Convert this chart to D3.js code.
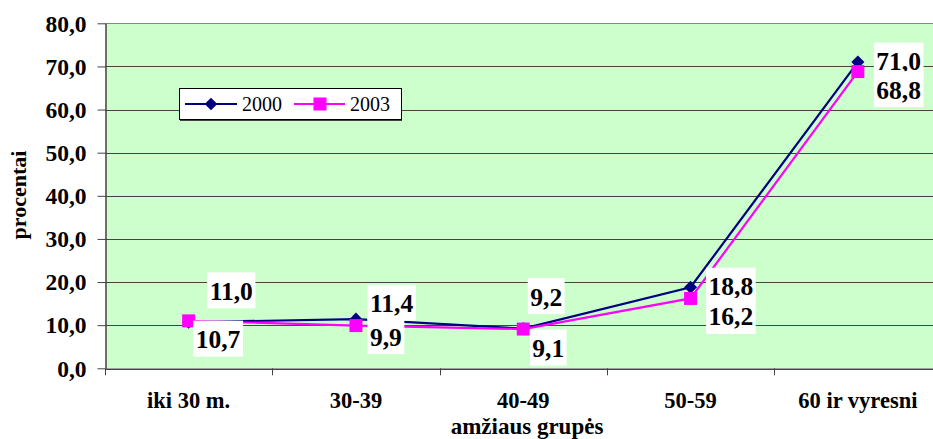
<!DOCTYPE html>
<html><head><meta charset="utf-8">
<script src="https://cdn.jsdelivr.net/npm/d3@7"></script>
<style>body{margin:0;background:#fff}svg{display:block}</style>
</head><body><svg id="c" width="933" height="439"></svg>
<script>
const categories = ["iki 30 m.", "30-39", "40-49", "50-59", "60 ir vyresni"];
const series2000 = [10.7, 11.4, 9.2, 18.8, 71.0];
const series2003 = [11.0, 9.9, 9.1, 16.2, 68.8];
const seriesNames = ["2000", "2003"];
const yTicks = [0, 10, 20, 30, 40, 50, 60, 70, 80];
// label offsets (style, px) relative to each point: [dx to text start, dy to baseline]
const labelOffsets2000 = [[7, 26], [14, -7], [7, -23], [18, 8], [18.5, 8]];
const labelOffsets2003 = [[21, -21], [14, 20], [9, 28], [18, 27], [18.5, 27]];

const svg = d3.select("#c");
const L = 105, R = 941.5, T = 23.3, B = 368.3;
const x = d3.scaleBand().domain(categories).range([L, R]);
const y = d3.scaleLinear().domain([0, 80]).range([B, T]);
const fmt = v => v.toFixed(1).replace(".", ",");
const font = "'Liberation Serif','Times New Roman',serif";

svg.append("rect").attr("x", L).attr("y", T).attr("width", R - L).attr("height", B - T).attr("fill", "#ccffcc");

// gridlines
svg.append("g").selectAll("line").data(yTicks.filter(d => d > 0)).join("line")
  .attr("x1", L).attr("x2", R).attr("y1", d => Math.round(y(d)) + 0.5).attr("y2", d => Math.round(y(d)) + 0.5)
  .attr("stroke", d => d === 80 ? "#888" : "#444").attr("stroke-width", 1);

// y axis
const ya = svg.append("g").attr("transform", `translate(${L + 0.5},0)`)
  .call(d3.axisLeft(y).tickValues(yTicks).tickFormat(fmt).tickSize(8).tickSizeOuter(0));
ya.select(".domain").attr("stroke", "#444").attr("stroke-width", 1.5);
ya.selectAll(".tick line").attr("stroke", "#444");
ya.selectAll("text").attr("font-family", font).attr("font-weight", "bold").attr("font-size", 23.5)
  .attr("fill", "#000").attr("x", -19).attr("dy", "0.33em");

// x axis
const xa = svg.append("g").attr("transform", `translate(0,${B + 0.5})`)
  .call(d3.axisBottom(x).tickSize(0).tickSizeOuter(0));
xa.select(".domain").attr("stroke", "#444").attr("stroke-width", 1.5);
xa.selectAll("text").attr("font-family", font).attr("font-weight", "bold").attr("font-size", 22.5)
  .attr("fill", "#000").attr("y", 39).attr("dy", 0);
svg.append("g").selectAll("line").data(d3.range(categories.length + 1)).join("line")
  .attr("x1", i => Math.round(L + i * x.step()) + 0.5).attr("x2", i => Math.round(L + i * x.step()) + 0.5)
  .attr("y1", B).attr("y2", B + 7).attr("stroke", "#444");

// axis titles
svg.append("text").attr("x", 527).attr("y", 434).attr("text-anchor", "middle")
  .attr("font-family", font).attr("font-weight", "bold").attr("font-size", 23).text("amžiaus grupės");
svg.append("text").attr("transform", "translate(26,195) rotate(-90)").attr("text-anchor", "middle")
  .attr("font-family", font).attr("font-weight", "bold").attr("font-size", 22).text("procentai");

const cx = c => x(c) + x.bandwidth() / 2;
const line = d3.line().x((d, i) => cx(categories[i])).y(d => y(d));

function drawSeries(vals, color, marker) {
  svg.append("path").datum(vals).attr("d", line).attr("fill", "none").attr("stroke", color).attr("stroke-width", 2.2);
  const g = svg.append("g");
  vals.forEach((v, i) => {
    if (marker === "diamond") {
      g.append("path").attr("d", d3.symbol().type(d3.symbolSquare).size(85)())
        .attr("transform", `translate(${cx(categories[i])},${y(v)}) rotate(45)`).attr("fill", color);
    } else {
      g.append("rect").attr("x", cx(categories[i]) - 6.5).attr("y", y(v) - 6.5).attr("width", 13).attr("height", 13).attr("fill", color);
    }
  });
}
drawSeries(series2000, "#000080", "diamond");
drawSeries(series2003, "#ff00ff", "square");

function drawLabels(vals, offs) {
  vals.forEach((v, i) => {
    const g = svg.append("g");
    const tx = cx(categories[i]) + offs[i][0], ty = y(v) + offs[i][1];
    const t = g.append("text").attr("x", tx).attr("y", ty)
      .attr("font-family", font).attr("font-weight", "bold").attr("font-size", 25.5).text(fmt(v));
    const b = t.node().getBBox();
    g.insert("rect", "text").attr("x", b.x - 2.5).attr("y", ty - 27.5).attr("width", b.width + 5).attr("height", 36).attr("fill", "#fff");
  });
}
drawLabels(series2000, labelOffsets2000);
drawLabels(series2003, labelOffsets2003);

// legend
const lg = svg.append("g");
lg.append("rect").attr("x", 179.5).attr("y", 88.5).attr("width", 222).attr("height", 31).attr("fill", "#fff").attr("stroke", "#000");
lg.append("line").attr("x1", 180).attr("x2", 402).attr("y1", 120.5).attr("y2", 120.5).attr("stroke", "#444");
lg.append("line").attr("x1", 185).attr("x2", 237).attr("y1", 104).attr("y2", 104).attr("stroke", "#000080").attr("stroke-width", 2.2);
lg.append("path").attr("d", d3.symbol().type(d3.symbolSquare).size(80)()).attr("transform", "translate(211,104) rotate(45)").attr("fill", "#000080");
lg.append("line").attr("x1", 294).attr("x2", 345).attr("y1", 104).attr("y2", 104).attr("stroke", "#ff00ff").attr("stroke-width", 2.2);
lg.append("rect").attr("x", 313.5).attr("y", 97.5).attr("width", 13).attr("height", 13).attr("fill", "#ff00ff");
lg.append("text").attr("x", 242).attr("y", 111).attr("font-family", font).attr("font-size", 20).text(seriesNames[0]);
lg.append("text").attr("x", 350).attr("y", 111).attr("font-family", font).attr("font-size", 20).text(seriesNames[1]);
</script></body></html>
